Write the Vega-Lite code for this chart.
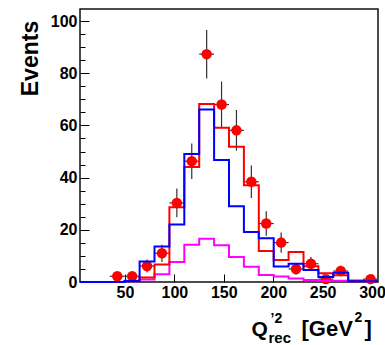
{
  "$schema": "https://vega.github.io/schema/vega-lite/v6.json",
  "width": 298,
  "height": 273,
  "autosize": "none",
  "padding": {"left": 80, "top": 9, "right": 7, "bottom": 63},
  "background": "white",
  "config": {
    "view": {"stroke": "#111", "strokeWidth": 1.5},
    "axis": {
      "labelFont": "Liberation Sans", "labelFontWeight": "bold", "labelFontSize": 16, "labelColor": "black",
      "titleFont": "Liberation Sans", "titleFontWeight": "bold", "titleColor": "black",
      "tickColor": "black", "tickWidth": 1, "grid": false, "domain": false
    }
  },
  "datasets": {
    "obs": [
      {"x0": 34.65, "x1": 49.73, "xc": 42.19, "v": 2.2, "lo": 0.7, "hi": 3.7},
      {"x0": 49.73, "x1": 64.8, "xc": 57.27, "v": 2.2, "lo": 0.7, "hi": 3.7},
      {"x0": 64.8, "x1": 79.88, "xc": 72.34, "v": 6.1, "lo": 3.6, "hi": 8.6},
      {"x0": 79.88, "x1": 94.95, "xc": 87.42, "v": 11.0, "lo": 7.7, "hi": 14.3},
      {"x0": 94.95, "x1": 110.03, "xc": 102.49, "v": 30.3, "lo": 24.8, "hi": 35.8},
      {"x0": 110.03, "x1": 125.1, "xc": 117.57, "v": 46.3, "lo": 39.5, "hi": 53.1},
      {"x0": 125.1, "x1": 140.18, "xc": 132.64, "v": 87.3, "lo": 78.0, "hi": 96.6},
      {"x0": 140.18, "x1": 155.25, "xc": 147.72, "v": 68.0, "lo": 59.3, "hi": 76.8},
      {"x0": 155.25, "x1": 170.33, "xc": 162.79, "v": 58.1, "lo": 50.3, "hi": 65.9},
      {"x0": 170.33, "x1": 185.4, "xc": 177.87, "v": 38.4, "lo": 32.2, "hi": 44.6},
      {"x0": 185.4, "x1": 200.48, "xc": 192.94, "v": 22.4, "lo": 17.7, "hi": 27.1},
      {"x0": 200.48, "x1": 215.55, "xc": 208.02, "v": 15.1, "lo": 11.2, "hi": 19.0},
      {"x0": 215.55, "x1": 230.63, "xc": 223.09, "v": 5.0, "lo": 2.8, "hi": 7.2},
      {"x0": 230.63, "x1": 245.7, "xc": 238.17, "v": 7.0, "lo": 4.4, "hi": 9.6},
      {"x0": 245.7, "x1": 260.78, "xc": 253.24, "v": 1.1, "lo": 0.1, "hi": 2.1},
      {"x0": 260.78, "x1": 275.85, "xc": 268.32, "v": 4.2, "lo": 2.2, "hi": 6.2},
      {"x0": 290.93, "x1": 306.0, "xc": 298.47, "v": 1.1, "lo": 0.1, "hi": 2.1}
    ],
    "red": [
      {"x": 4.5, "v": 0}, {"x": 19.58, "v": 0}, {"x": 34.65, "v": 0}, {"x": 49.73, "v": 0.5},
      {"x": 64.8, "v": 1.7}, {"x": 79.88, "v": 6.7}, {"x": 94.95, "v": 28.6}, {"x": 110.03, "v": 44.1},
      {"x": 125.1, "v": 68.2}, {"x": 140.18, "v": 59.1}, {"x": 155.25, "v": 51.8}, {"x": 170.33, "v": 37.1},
      {"x": 185.4, "v": 11.9}, {"x": 200.48, "v": 8.4}, {"x": 215.55, "v": 11.5}, {"x": 230.63, "v": 6.0},
      {"x": 245.7, "v": 3.4}, {"x": 260.78, "v": 2.6}, {"x": 275.85, "v": 0.6}, {"x": 290.93, "v": 0.6},
      {"x": 306.0, "v": 0.6}
    ],
    "blue": [
      {"x": 4.5, "v": 0}, {"x": 19.58, "v": 0}, {"x": 34.65, "v": 0}, {"x": 49.73, "v": 0.4},
      {"x": 64.8, "v": 7.9}, {"x": 79.88, "v": 13.6}, {"x": 94.95, "v": 22.0}, {"x": 110.03, "v": 49.0},
      {"x": 125.1, "v": 66.1}, {"x": 140.18, "v": 46.7}, {"x": 155.25, "v": 29.0}, {"x": 170.33, "v": 19.2},
      {"x": 185.4, "v": 16.8}, {"x": 200.48, "v": 5.9}, {"x": 215.55, "v": 7.0}, {"x": 230.63, "v": 4.6},
      {"x": 245.7, "v": 1.9}, {"x": 260.78, "v": 3.5}, {"x": 275.85, "v": 0.3}, {"x": 290.93, "v": 0.3},
      {"x": 306.0, "v": 0.3}
    ],
    "magenta": [
      {"x": 4.5, "v": 0}, {"x": 19.58, "v": 0}, {"x": 34.65, "v": 0}, {"x": 49.73, "v": 0.3},
      {"x": 64.8, "v": 1.0}, {"x": 79.88, "v": 3.0}, {"x": 94.95, "v": 7.7}, {"x": 110.03, "v": 14.3},
      {"x": 125.1, "v": 16.6}, {"x": 140.18, "v": 14.1}, {"x": 155.25, "v": 9.6}, {"x": 170.33, "v": 5.8},
      {"x": 185.4, "v": 2.7}, {"x": 200.48, "v": 2.1}, {"x": 215.55, "v": 1.3}, {"x": 230.63, "v": 0.8},
      {"x": 245.7, "v": 0.5}, {"x": 260.78, "v": 0.5}, {"x": 275.85, "v": 0.3}, {"x": 290.93, "v": 0.3},
      {"x": 306.0, "v": 0.3}
    ]
  },
  "resolve": {"axis": {"x": "independent", "y": "independent"}},
  "layer": [
    {
      "data": {"name": "obs"},
      "mark": {"type": "rule", "color": "#333", "strokeWidth": 1.2},
      "encoding": {
        "x": {"field": "xc", "type": "quantitative",
              "scale": {"domain": [4.5, 306], "nice": false, "zero": false},
              "axis": {"orient": "bottom", "values": [50, 100, 150, 200, 250, 300], "ticks": false, "labelPadding": 2,
                       "title": "Q", "titleFontSize": 21, "titleX": 171, "titleY": 53, "titleAlign": "left", "titleBaseline": "alphabetic", "titleAngle": 0}},
        "y": {"field": "lo", "type": "quantitative",
              "scale": {"domain": [0, 104.6], "nice": false, "zero": false}, "axis": null},
        "y2": {"field": "hi"}
      }
    },
    {
      "data": {"name": "obs"},
      "mark": {"type": "rule", "color": "#333", "strokeWidth": 1.2},
      "encoding": {
        "x": {"field": "x0", "type": "quantitative",
              "scale": {"domain": [4.5, 306], "nice": false, "zero": false},
              "axis": {"orient": "bottom", "values": [50, 100, 150, 200, 250, 300], "labels": false, "ticks": true, "tickSize": -8,
                       "title": "’2", "titleFontSize": 14, "titleX": 190, "titleY": 40, "titleAlign": "left", "titleBaseline": "alphabetic", "titleAngle": 0}},
        "x2": {"field": "x1"},
        "y": {"field": "v", "type": "quantitative",
              "scale": {"domain": [0, 104.6], "nice": false, "zero": false}, "axis": null}
      }
    },
    {
      "data": {"name": "obs"},
      "mark": {"type": "point", "shape": "circle", "filled": true, "color": "#ff0000", "size": 110, "opacity": 1},
      "encoding": {
        "x": {"field": "xc", "type": "quantitative",
              "scale": {"domain": [4.5, 306], "nice": false, "zero": false},
              "axis": {"orient": "bottom", "labels": false, "ticks": false,
                       "title": "rec", "titleFontSize": 15, "titleX": 188, "titleY": 60, "titleAlign": "left", "titleBaseline": "alphabetic", "titleAngle": 0}},
        "y": {"field": "v", "type": "quantitative",
              "scale": {"domain": [0, 104.6], "nice": false, "zero": false},
              "axis": {"orient": "left", "values": [5, 10, 15, 25, 30, 35, 45, 50, 55, 65, 70, 75, 85, 90, 95], "labels": false, "ticks": true, "tickSize": -5, "title": null}}
      }
    },
    {
      "data": {"name": "magenta"},
      "mark": {"type": "line", "interpolate": "step-after", "color": "#ff00ff", "strokeWidth": 2},
      "encoding": {
        "x": {"field": "x", "type": "quantitative",
              "scale": {"domain": [4.5, 306], "nice": false, "zero": false},
              "axis": {"orient": "bottom", "labels": false, "ticks": false,
                       "title": "[GeV", "titleFontSize": 22, "titleX": 221, "titleY": 53, "titleAlign": "left", "titleBaseline": "alphabetic", "titleAngle": 0}},
        "y": {"field": "v", "type": "quantitative",
              "scale": {"domain": [0, 104.6], "nice": false, "zero": false}, "axis": null}
      }
    },
    {
      "data": {"name": "red"},
      "mark": {"type": "line", "interpolate": "step-after", "color": "#ff0000", "strokeWidth": 2},
      "encoding": {
        "x": {"field": "x", "type": "quantitative",
              "scale": {"domain": [4.5, 306], "nice": false, "zero": false},
              "axis": {"orient": "bottom", "labels": false, "ticks": false,
                       "title": "2", "titleFontSize": 14, "titleX": 274, "titleY": 39, "titleAlign": "left", "titleBaseline": "alphabetic", "titleAngle": 0}},
        "y": {"field": "v", "type": "quantitative",
              "scale": {"domain": [0, 104.6], "nice": false, "zero": false},
              "axis": {"orient": "left", "values": [0, 20, 40, 60, 80, 100], "ticks": false, "labelPadding": 3,
                       "title": "Events", "titleFontSize": 23, "titleAngle": -90, "titleX": -43, "titleY": 49, "titleAlign": "center", "titleBaseline": "alphabetic"}}
      }
    },
    {
      "data": {"name": "blue"},
      "mark": {"type": "line", "interpolate": "step-after", "color": "#0000ff", "strokeWidth": 2},
      "encoding": {
        "x": {"field": "x", "type": "quantitative",
              "scale": {"domain": [4.5, 306], "nice": false, "zero": false},
              "axis": {"orient": "bottom", "labels": false, "ticks": false,
                       "title": "]", "titleFontSize": 22, "titleX": 284, "titleY": 53, "titleAlign": "left", "titleBaseline": "alphabetic", "titleAngle": 0}},
        "y": {"field": "v", "type": "quantitative",
              "scale": {"domain": [0, 104.6], "nice": false, "zero": false},
              "axis": {"orient": "left", "values": [0, 20, 40, 60, 80, 100], "labels": false, "ticks": true, "tickSize": -9, "title": null}}
      }
    }
  ]
}
